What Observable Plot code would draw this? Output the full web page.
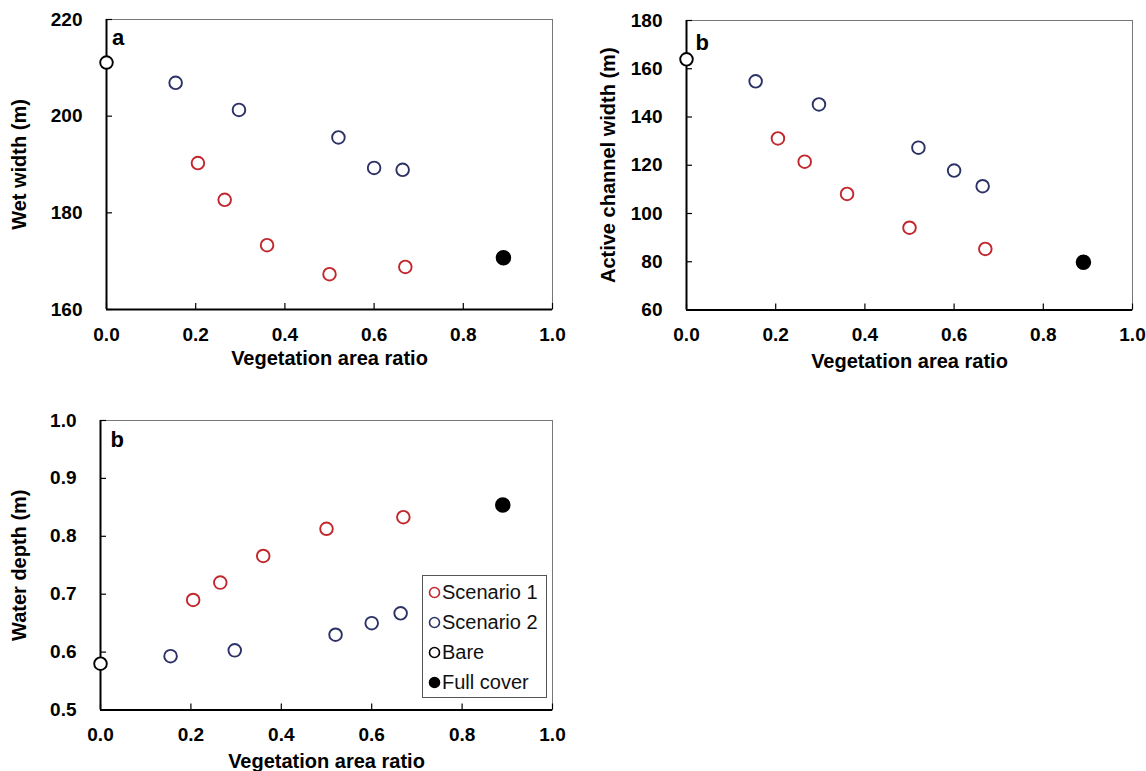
<!DOCTYPE html>
<html>
<head>
<meta charset="utf-8">
<script src="https://cdn.jsdelivr.net/npm/d3@7"></script>
<script src="https://cdn.jsdelivr.net/npm/@observablehq/plot@0.6"></script>
<style>
  body { margin: 0; background: #fff; }
  #wrap { position: relative; width: 1146px; height: 771px; overflow: hidden; background: #fff;
          font-family: "Liberation Sans", Arial, sans-serif; }
  .panel { position: absolute; }
  #legend { position: absolute; left: 422px; top: 575px; width: 125px; height: 123px;
            border: 1.5px solid #555; background: #fff; box-sizing: border-box; padding: 1px 0 0 5px; }
  .row { height: 30px; display: flex; align-items: center; font-size: 20px; color: #111; white-space: nowrap; }
  .row svg { margin-right: 1px; }
</style>
</head>
<body>
<div id="wrap">
  <div id="pa" class="panel" style="left:0;top:0"></div>
  <div id="pb" class="panel" style="left:570px;top:0"></div>
  <div id="pc" class="panel" style="left:0;top:400px"></div>
  <div id="legend"></div>
</div>
<script>
// ---------- data ----------
const seriesNames = ["Scenario 1", "Scenario 2", "Bare", "Full cover"];
const seriesStroke = ["#c1272d", "#2c3166", "#000000", "#000000"];
const seriesFill = ["#ffffff", "#ffffff", "#ffffff", "#000000"];

const xS1 = [0.205, 0.265, 0.36, 0.50, 0.67];
const xS2 = [0.155, 0.297, 0.52, 0.60, 0.664];
const xBare = [0.0];
const xFull = [0.89];

// panel a: wet width (m)
const wetS1 = [190.3, 182.7, 173.3, 167.3, 168.8];
const wetS2 = [206.9, 201.3, 195.6, 189.3, 188.9];
const wetBare = [211.1];
const wetFull = [170.7];

// panel b: active channel width (m)
const actS1 = [131.1, 121.5, 108.1, 94.1, 85.3];
const actS2 = [154.8, 145.2, 127.3, 117.8, 111.3];
const actBare = [163.9];
const actFull = [79.8];

// panel b (lower): water depth (m)
const depS1 = [0.690, 0.720, 0.766, 0.813, 0.833];
const depS2 = [0.593, 0.603, 0.630, 0.650, 0.667];
const depBare = [0.580];
const depFull = [0.854];

const xDomain = [0, 1];
const xTicks = [0, 0.2, 0.4, 0.6, 0.8, 1.0];
const wetTicks = [160, 180, 200, 220];
const actTicks = [60, 80, 100, 120, 140, 160, 180];
const depTicks = [0.5, 0.6, 0.7, 0.8, 0.9, 1.0];

const xLabel = "Vegetation area ratio";

function rows(xs, ys) { return xs.map((x, i) => ({x, y: ys[i]})); }

function makePanel(o) {
  const groups = [
    rows(xS1, o.s1), rows(xS2, o.s2), rows(xBare, o.bare), rows(xFull, o.full)
  ];
  const dots = groups.map((g, i) => Plot.dot(g, {
    x: "x", y: "y", r: i === 3 ? 6.8 : 6.3,
    stroke: seriesStroke[i], fill: seriesFill[i], strokeWidth: 1.9
  }));
  const font = "Liberation Sans, Arial, sans-serif";
  const chart = Plot.plot({
    width: o.width, height: o.height,
    marginLeft: o.ml, marginRight: o.mr, marginTop: o.mt, marginBottom: o.mb,
    style: {fontFamily: font, fontSize: "19px", fontWeight: "bold",
            color: "#000", background: "transparent", overflow: "visible"},
    x: {domain: xDomain},
    y: {domain: o.yDomain},
    marks: [
      Plot.frame({stroke: "#777", strokeWidth: 1}),
      Plot.ruleX([xDomain[0]], {stroke: "#000", strokeWidth: 2}),
      Plot.ruleY([o.yDomain[0]], {stroke: "#000", strokeWidth: 2}),
      Plot.axisX({ticks: xTicks, tickFormat: d3.format(".1f"), tickSize: -6, tickPadding: 23.5, label: null,
                  strokeWidth: 1.2, fontSize: 19, fontWeight: "bold", fontFamily: font}),
      Plot.axisY({ticks: o.yTicks, tickFormat: o.yFmt, tickSize: -6, tickPadding: 30, label: null,
                  strokeWidth: 1.2, fontSize: 19, fontWeight: "bold", fontFamily: font}),
      ...dots,
      Plot.text([o.yLabel], {text: d => d, frameAnchor: "left", textAnchor: "middle", lineAnchor: "middle",
                             rotate: -90, dx: o.ylDx, fontSize: 20, fontWeight: "bold", fontFamily: font}),
      Plot.text([xLabel], {text: d => d, frameAnchor: "bottom", textAnchor: "middle", lineAnchor: "middle",
                           dy: o.xlDy, fontSize: 20, fontWeight: "bold", fontFamily: font}),
      Plot.text([o.letter], {text: d => d, frameAnchor: "top-left", textAnchor: "start", lineAnchor: "top",
                             dx: o.letDx, dy: o.letDy, fontSize: 22, fontWeight: "bold", fontFamily: font})
    ]
  });
  document.getElementById(o.el).appendChild(chart);
}

makePanel({el: "pa", width: 570, height: 380, ml: 106, mr: 18, mt: 19, mb: 71,
  yDomain: [160, 220], yTicks: wetTicks, yFmt: d3.format("d"), yLabel: "Wet width (m)",
  s1: wetS1, s2: wetS2, bare: wetBare, full: wetFull,
  ylDx: -87, xlDy: 49.5, letter: "a", letDx: 5.5, letDy: 9.5});

makePanel({el: "pb", width: 576, height: 380, ml: 116, mr: 14, mt: 20, mb: 70.5,
  yDomain: [60, 180], yTicks: actTicks, yFmt: d3.format("d"), yLabel: "Active channel width (m)",
  s1: actS1, s2: actS2, bare: actBare, full: actFull,
  ylDx: -78, xlDy: 51.5, letter: "b", letDx: 9, letDy: 13.5});

makePanel({el: "pc", width: 570, height: 371, ml: 100, mr: 18, mt: 20, mb: 61.5,
  yDomain: [0.5, 1.0], yTicks: depTicks, yFmt: d3.format(".1f"), yLabel: "Water depth (m)",
  s1: depS1, s2: depS2, bare: depBare, full: depFull,
  ylDx: -80.5, xlDy: 51.5, letter: "b", letDx: 10, letDy: 10.5});

// ---------- legend ----------
const legend = document.getElementById("legend");
seriesNames.forEach((name, i) => {
  const row = document.createElement("div");
  row.className = "row";
  row.innerHTML = `<svg width="13" height="13"><circle cx="6.5" cy="6.5" r="5" stroke="${seriesStroke[i]}" stroke-width="1.6" fill="${seriesFill[i]}"></circle></svg><span>${name}</span>`;
  legend.appendChild(row);
});
</script>
</body>
</html>
